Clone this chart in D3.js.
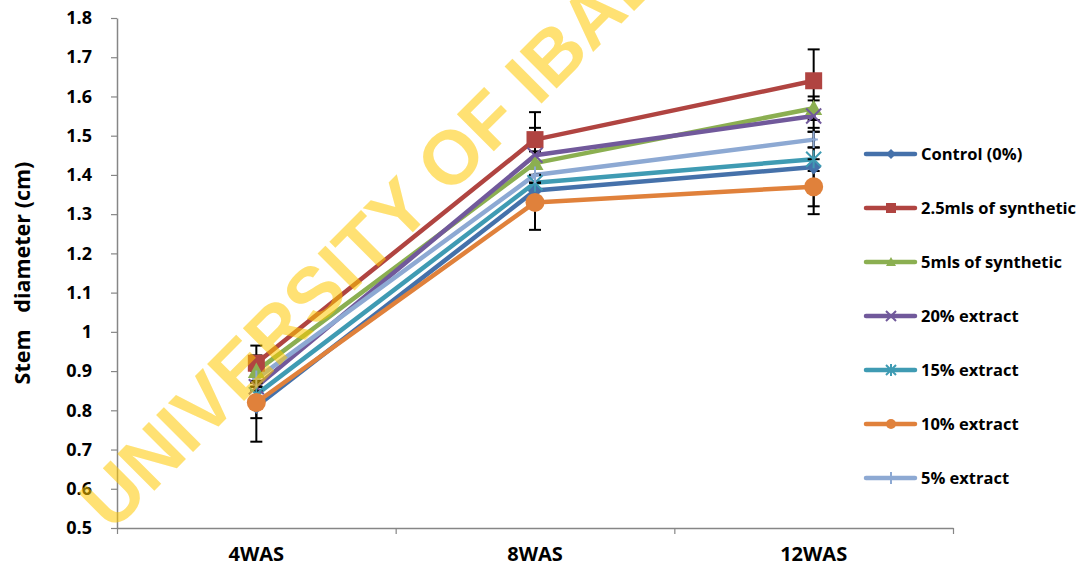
<!DOCTYPE html>
<html>
<head>
<meta charset="utf-8">
<script src="https://cdn.jsdelivr.net/npm/d3@7"></script>
<style>
  html, body { margin: 0; padding: 0; background: #fff; }
  svg { display: block; }
  text { font-family: "Open Sans", "Liberation Sans", sans-serif; }
</style>
</head>
<body>
<svg id="chart" width="1083" height="571"></svg>
<script>
// ---- data ----
const categories = ["4WAS", "8WAS", "12WAS"];
const seriesNames = ["Control (0%)", "2.5mls of synthetic", "5mls of synthetic", "20% extract", "15% extract", "10% extract", "5% extract"];
const control   = [0.81, 1.36, 1.42];
const syn25     = [0.92, 1.49, 1.64];
const syn5      = [0.90, 1.43, 1.57];
const ext20     = [0.86, 1.45, 1.55];
const ext15     = [0.84, 1.38, 1.44];
const ext10     = [0.82, 1.33, 1.37];
const ext5      = [0.88, 1.40, 1.49];
// error bar half-lengths
const errControl = [0.09, 0.02, 0.10];
const errSyn25   = [0.045, 0.07, 0.08];
const errSyn5    = [0.04, 0.03, 0.03];
const errExt20   = [0.01, 0.07, 0.04];
const errExt15   = [0.02, 0.02, 0.03];
const errExt10   = [0.04, 0.07, 0.07];
const errExt5    = [0.01, 0.02, 0.02];
const yTicks = [0.5, 0.6, 0.7, 0.8, 0.9, 1, 1.1, 1.2, 1.3, 1.4, 1.5, 1.6, 1.7, 1.8];
const yTitle = "Stem   diameter (cm)";
const watermark = "UNIVERSITY OF IBADAN";

const seriesValues = [control, syn25, syn5, ext20, ext15, ext10, ext5];
const seriesErrors = [errControl, errSyn25, errSyn5, errExt20, errExt15, errExt10, errExt5];
const colors = ["#4571AA", "#B04441", "#8BAF51", "#71599B", "#3F9BB3", "#E0813B", "#8DA9D3"];
const markers = ["diamond", "square", "triangle", "x", "asterisk", "circle", "plus"];

const svg = d3.select("#chart");
const pLeft = 117, pRight = 953, pTop = 18, pBottom = 528;

const y = d3.scaleLinear().domain([0.5, 1.8]).range([pBottom, pTop]);
const xb = d3.scaleBand().domain(categories).range([pLeft, pRight]).padding(0);
const xc = d => xb(d) + xb.bandwidth() / 2;
const xEdge = d3.scaleLinear().domain([0, categories.length]).range([pLeft, pRight]);

// axes
const yAxis = svg.append("g").attr("transform", `translate(${pLeft},0)`)
  .call(d3.axisLeft(y).tickValues(yTicks).tickSize(6).tickSizeOuter(0).tickPadding(19)
    .tickFormat(d => d === 1 ? "1" : d3.format(".1f")(d)));
yAxis.select(".domain").attr("stroke", "#868686").attr("stroke-width", 1.5);
yAxis.selectAll(".tick line").attr("stroke", "#868686").attr("stroke-width", 1.2);
yAxis.selectAll(".tick text").attr("font-size", 18).attr("font-weight", "bold").attr("fill", "#000")
  .style("font-family", "'Open Sans', sans-serif");

const xAxisTicks = svg.append("g").attr("transform", `translate(0,${pBottom})`)
  .call(d3.axisBottom(xEdge).tickValues(d3.range(categories.length + 1)).tickSize(6).tickSizeOuter(0).tickFormat(""));
xAxisTicks.select(".domain").attr("stroke", "#868686").attr("stroke-width", 1.5);
xAxisTicks.selectAll(".tick line").attr("stroke", "#868686").attr("stroke-width", 1.2);

const xAxisLabels = svg.append("g").attr("transform", `translate(0,${pBottom})`)
  .call(d3.axisBottom(xb).tickSize(0).tickPadding(19));
xAxisLabels.select(".domain").remove();
xAxisLabels.selectAll(".tick text").attr("font-size", 20).attr("font-weight", "bold").attr("fill", "#000")
  .style("font-family", "'Open Sans', sans-serif");

// y title
svg.append("text")
  .attr("transform", `translate(30,${(pTop + pBottom) / 2}) rotate(-90)`)
  .attr("text-anchor", "middle")
  .attr("font-size", 21.5).attr("font-weight", "bold")
  .style("white-space", "pre")
  .text(yTitle);

// marker drawing
function drawMarker(g, type, color, s) {
  const h = s / 2;
  if (type === "diamond") {
    g.append("path").attr("d", `M0,${-h}L${h},0L0,${h}L${-h},0Z`).attr("fill", color);
  } else if (type === "square") {
    g.append("rect").attr("x", -h).attr("y", -h).attr("width", s).attr("height", s).attr("fill", color);
  } else if (type === "triangle") {
    g.append("path").attr("d", `M0,${-h}L${h},${h * 0.8}L${-h},${h * 0.8}Z`).attr("fill", color);
  } else if (type === "circle") {
    g.append("circle").attr("r", h).attr("fill", color);
  } else if (type === "x") {
    g.append("path").attr("d", `M${-h},${-h}L${h},${h}M${-h},${h}L${h},${-h}`).attr("stroke", color).attr("stroke-width", 2);
  } else if (type === "asterisk") {
    g.append("path").attr("d", `M${-h},${-h}L${h},${h}M${-h},${h}L${h},${-h}M0,${-h * 1.2}L0,${h * 1.2}`).attr("stroke", color).attr("stroke-width", 2);
  } else if (type === "plus") {
    g.append("path").attr("d", `M${-h * 0.6},0L${h * 0.6},0M0,${-h * 1.2}L0,${h * 1.2}`).attr("stroke", color).attr("stroke-width", 2);
  }
}

const line = d3.line().x((d, i) => xc(categories[i])).y(d => y(d));

const plot = svg.append("g");
// lines
seriesValues.forEach((vals, si) => {
  plot.append("path").datum(vals).attr("d", line)
    .attr("fill", "none").attr("stroke", colors[si]).attr("stroke-width", 4.5)
    .attr("stroke-linejoin", "round").attr("stroke-linecap", "round");
});
// error bars
seriesValues.forEach((vals, si) => {
  vals.forEach((v, i) => {
    const e = seriesErrors[si][i];
    const cx = xc(categories[i]);
    const g = plot.append("g").attr("stroke", "#000").attr("stroke-width", 2);
    g.append("line").attr("x1", cx).attr("x2", cx).attr("y1", y(v - e)).attr("y2", y(v + e));
    g.append("line").attr("x1", cx - 6).attr("x2", cx + 6).attr("y1", y(v - e)).attr("y2", y(v - e));
    g.append("line").attr("x1", cx - 6).attr("x2", cx + 6).attr("y1", y(v + e)).attr("y2", y(v + e));
  });
});
// markers
const markerSizes = { diamond: 15, square: 17, triangle: 17, x: 15, asterisk: 15, circle: 19, plus: 14 };
seriesValues.forEach((vals, si) => {
  vals.forEach((v, i) => {
    const g = plot.append("g").attr("transform", `translate(${xc(categories[i])},${y(v)})`);
    drawMarker(g, markers[si], colors[si], markerSizes[markers[si]]);
  });
});

// legend
const legend = svg.append("g");
seriesNames.forEach((name, si) => {
  const ly = 154 + si * 54;
  const g = legend.append("g").attr("transform", `translate(0,${ly})`);
  g.append("line").attr("x1", 866).attr("x2", 915).attr("y1", 0).attr("y2", 0)
    .attr("stroke", colors[si]).attr("stroke-width", 4.5).attr("stroke-linecap", "round");
  const mg = g.append("g").attr("transform", "translate(891,0)");
  drawMarker(mg, markers[si], colors[si], 10);
  g.append("text").attr("x", 921).attr("y", 6).attr("font-size", 16.5).attr("font-weight", "bold").text(name);
});

// watermark
svg.append("text")
  .attr("transform", "translate(112,533) rotate(-45)")
  .attr("font-size", 76).attr("font-weight", "bold")
  .style("font-family", "'Liberation Sans', Arial, sans-serif")
  .attr("fill", "#FFC800").attr("fill-opacity", 0.55)
  .text(watermark);
</script>
</body>
</html>
